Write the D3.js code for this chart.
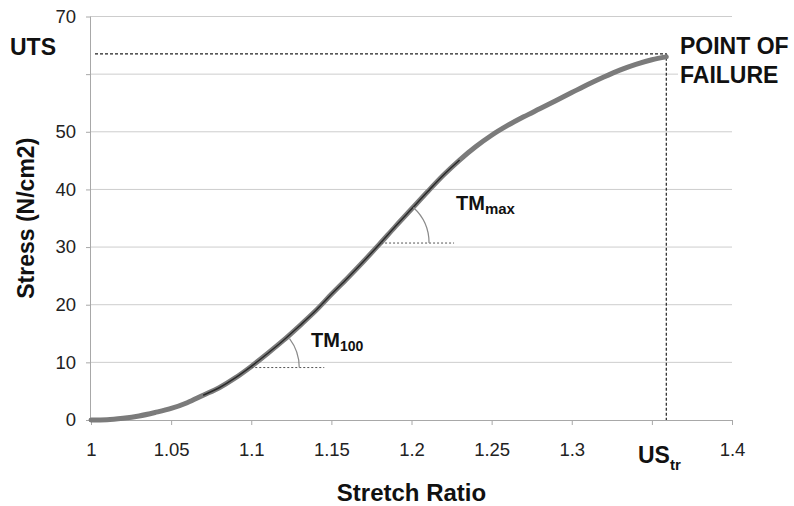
<!DOCTYPE html>
<html>
<head>
<meta charset="utf-8">
<script src="https://cdn.jsdelivr.net/npm/d3@7"></script>
<style>
  body { margin: 0; background: #fff; }
  text { font-family: "Liberation Sans", Arial, sans-serif; }
</style>
</head>
<body>
<div id="chart"></div>
<script>
// stress-strain curve
let stretch = [1.00, 1.01, 1.02, 1.03, 1.04, 1.05, 1.06, 1.07, 1.08, 1.09,
               1.10, 1.11, 1.12, 1.13, 1.14, 1.15, 1.16, 1.17, 1.18, 1.19,
               1.20, 1.21, 1.22, 1.23, 1.24, 1.25, 1.26, 1.27, 1.28, 1.29,
               1.30, 1.31, 1.32, 1.33, 1.34, 1.35, 1.359];
let stress = [0, 0.05, 0.3, 0.7, 1.3, 2.0, 3.0, 4.3, 5.6, 7.3,
              9.3, 11.5, 13.8, 16.3, 18.9, 21.8, 24.6, 27.5, 30.5, 33.6,
              36.6, 39.6, 42.5, 45.1, 47.4, 49.4, 51.1, 52.6, 54.0, 55.4,
              56.8, 58.2, 59.5, 60.7, 61.7, 62.5, 63.0];

let xTicks = [1, 1.05, 1.1, 1.15, 1.2, 1.25, 1.3, 1.35, 1.4];
let yTicks = [0, 10, 20, 30, 40, 50, 60, 70];
let hiddenX = [1.35];   // label replaced by US_tr
let hiddenY = [60];     // label replaced by UTS

let uts = 63.5;
let failStretch = 1.359;

// tangent modulus annotations
let tmNames = ["100", "max"];
let tmStretch = [1.10, 1.181];
let tmStress = [9.1, 30.7];

let svgWidth = 794;
let svgHeight = 506;

let xScale = d3.scaleLinear().domain([1, 1.4]).range([91, 732]);
let yScale = d3.scaleLinear().domain([0, 70]).range([420, 16.5]);

let data = stretch.map((s, i) => ({x: s, y: stress[i]}));

let svg = d3.select("#chart")
  .append("svg")
  .attr("width", svgWidth)
  .attr("height", svgHeight);

//gridlines
svg.append("g")
  .selectAll("line")
  .data(yTicks.filter(d => d > 0))
  .enter()
  .append("line")
  .attr("x1", xScale(1))
  .attr("x2", xScale(1.4))
  .attr("y1", d => yScale(d))
  .attr("y2", d => yScale(d))
  .attr("stroke", "#cdcdcd")
  .attr("stroke-width", 1);

//axes
let xAxis = d3.axisBottom(xScale)
  .tickValues(xTicks)
  .tickSize(5)
  .tickPadding(18)
  .tickFormat(d => hiddenX.includes(d) ? "" : String(+d.toFixed(2)));

let yAxis = d3.axisLeft(yScale)
  .tickValues(yTicks)
  .tickSize(5)
  .tickPadding(10)
  .tickFormat(d => hiddenY.includes(d) ? "" : d);

let gx = svg.append("g")
  .attr("transform", `translate(0,${yScale(0)})`)
  .call(xAxis);

let gy = svg.append("g")
  .attr("transform", `translate(${xScale(1)},0)`)
  .call(yAxis);

[gx, gy].forEach(g => {
  g.select(".domain").attr("stroke", "#a8a8a8");
  g.selectAll(".tick line").attr("stroke", "#a8a8a8");
  g.selectAll(".tick text")
    .attr("fill", "#222")
    .style("font-size", "18.5px")
    .style("font-family", "'Liberation Sans', Arial, sans-serif");
});
gx.select(".domain").attr("d", `M${xScale(1)},0.5H${xScale(1.4)}`);
gy.select(".domain").attr("d", `M-0.5,${yScale(70)}V${yScale(0)}`);

//UTS / failure dashed lines
svg.append("path")
  .attr("d", `M95,${yScale(uts)}H${xScale(failStretch)}V${yScale(0)}`)
  .attr("fill", "none")
  .attr("stroke", "#222")
  .attr("stroke-width", 1.2)
  .attr("stroke-dasharray", "3,2");

//curve
let line = d3.line().x(d => xScale(d.x)).y(d => yScale(d.y)).curve(d3.curveMonotoneX);

svg.append("path")
  .datum(data)
  .attr("d", line)
  .attr("fill", "none")
  .attr("stroke", "#7b7b7b")
  .attr("stroke-width", 5)
  .attr("stroke-linecap", "round");

// dark fitted line over the linear region
svg.append("path")
  .datum(data.filter(d => d.x >= 1.07 && d.x <= 1.23))
  .attr("d", line)
  .attr("fill", "none")
  .attr("stroke", "#2a2a2a")
  .attr("stroke-width", 1.5);

//tangent modulus marks
let lbl = svg.append("g").attr("font-weight", "bold").attr("fill", "#111");

tmNames.forEach((name, i) => {
  let px = xScale(tmStretch[i]);
  let py = yScale(tmStress[i]);
  // local slope from the data, in pixel space
  let j = stretch.findIndex(s => s >= tmStretch[i]);
  let dx = xScale(stretch[j + 1]) - xScale(stretch[j - 1]);
  let dy = yScale(stress[j - 1]) - yScale(stress[j + 1]);
  let ang = Math.atan2(dy, dx);
  let r = 48;

  svg.append("line")
    .attr("x1", px).attr("x2", px + 73)
    .attr("y1", py).attr("y2", py)
    .attr("stroke", "#555")
    .attr("stroke-width", 1)
    .attr("stroke-dasharray", "2,2");

  svg.append("path")
    .attr("d", `M${px + r},${py} A${r},${r} 0 0 0 ${px + r * Math.cos(ang)},${py - r * Math.sin(ang)}`)
    .attr("fill", "none")
    .attr("stroke", "#8a8a8a")
    .attr("stroke-width", 1.2);
});

let tm100 = lbl.append("text").attr("x", 311).attr("y", 347).style("font-size", "20px");
tm100.append("tspan").text("TM");
tm100.append("tspan").attr("dy", 4).style("font-size", "14px").text(tmNames[0]);

let tmMax = lbl.append("text").attr("x", 456).attr("y", 210).style("font-size", "20px");
tmMax.append("tspan").text("TM");
tmMax.append("tspan").attr("dy", 4).style("font-size", "15px").text(tmNames[1]);

//labels
lbl.append("text").attr("x", 10).attr("y", 55).style("font-size", "23px").text("UTS");

lbl.append("rect").attr("x", 678).attr("y", 34).attr("width", 116).attr("height", 54).attr("fill", "#fff");
lbl.append("text").attr("x", 680).attr("y", 54).style("font-size", "23px").text("POINT OF");
lbl.append("text").attr("x", 680).attr("y", 83).style("font-size", "23px").text("FAILURE");

let us = lbl.append("text").attr("x", 638).attr("y", 463).style("font-size", "23px");
us.append("tspan").text("US");
us.append("tspan").attr("dy", 7).style("font-size", "15px").text("tr");

lbl.append("text")
  .attr("x", (xScale(1) + xScale(1.4)) / 2)
  .attr("y", 501)
  .attr("text-anchor", "middle")
  .style("font-size", "24px")
  .text("Stretch Ratio");

lbl.append("text")
  .attr("transform", `translate(34,${(yScale(0) + yScale(70)) / 2}) rotate(-90)`)
  .attr("text-anchor", "middle")
  .style("font-size", "23px")
  .text("Stress (N/cm2)");
</script>
</body>
</html>
